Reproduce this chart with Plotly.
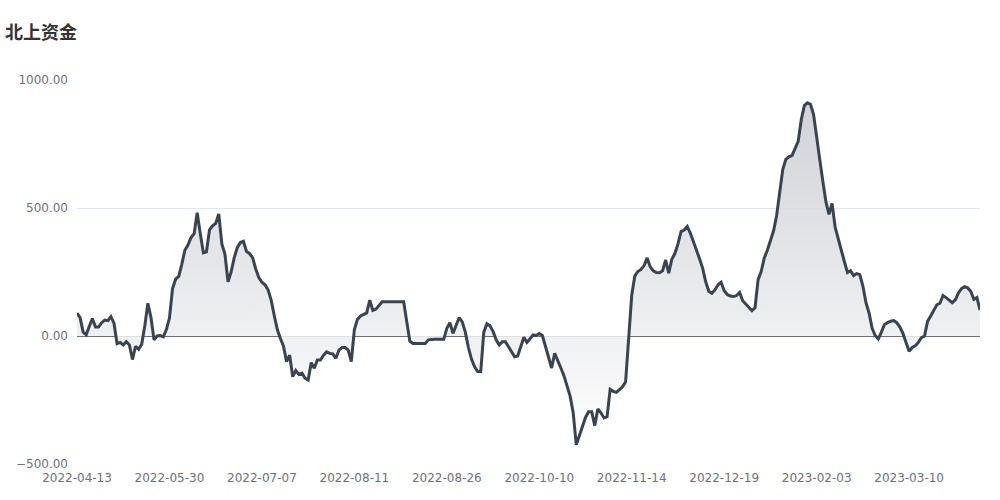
import plotly.graph_objects as go

title_text = "北上资金"

values = [
    90, 72, 15, 5, 38, 68, 35, 35, 52, 62,
    60, 76, 50, -30, -25, -35, -22, -35, -92, -40,
    -52, -32, 40, 128, 72, -15, 0, 2, -3, 25,
    70, 185, 222, 233, 280, 335, 355, 385, 400, 482,
    400, 325, 329, 415, 430, 440, 477, 360, 320, 212,
    250, 305, 345, 365, 370, 330, 322, 305, 262, 228,
    210, 200, 180, 140, 80, 25, -10, -40, -100, -75,
    -159, -135, -150, -145, -165, -172, -104, -126, -94, -94,
    -75, -62, -68, -70, -87, -55, -45, -45, -55, -100,
    25, 65, 78, 85, 90, 140, 100, 105, 120, 134,
    134, 134, 134, 134, 134, 134, 134, 56, -20, -29,
    -29, -29, -29, -29, -15, -13, -13, -13, -13, -13,
    30, 52, 10, 45, 72, 55, 15, -45, -90, -120,
    -139, -139, 15, 48, 40, 18, -15, -35, -22, -22,
    -40, -60, -81, -78, -42, -5, -25, -10, 4, 2,
    10, 2, -40, -90, -125, -68, -100, -125, -155, -195,
    -235, -300, -425, -390, -350, -318, -296, -296, -350, -285,
    -300, -320, -315, -208, -216, -220, -210, -198, -180, 10,
    160, 235, 252, 260, 275, 305, 270, 255, 248, 247,
    255, 297, 245, 300, 322, 360, 408, 414, 428, 402,
    370, 338, 302, 265, 212, 175, 167, 180, 200, 210,
    177, 162, 156, 154, 158, 170, 138, 125, 110, 99,
    110, 220, 252, 305, 335, 372, 410, 470, 560, 650,
    690, 700, 705, 730, 760, 845, 900, 911, 905, 865,
    770, 690, 605, 525, 475, 518, 425, 375, 335, 290,
    248, 255, 236, 244, 240, 195, 130, 90, 30, 2,
    -12, 15, 45, 52, 58, 60, 52, 35, 10, -25,
    -60, -45, -38, -25, -6, 0, 58, 78, 100, 122,
    128, 158, 150, 140, 130, 141, 168, 185, 193, 188,
    175, 143, 150, 102,
]

tick_labels = [
    "2022-04-13", "2022-05-30", "2022-07-07", "2022-08-11", "2022-08-26",
    "2022-10-10", "2022-11-14", "2022-12-19", "2023-02-03", "2023-03-10",
]
label_interval = 30

y_ticks = [-500, 0, 500, 1000]

x_index = list(range(len(values)))
tick_positions = [i * label_interval for i in range(len(tick_labels))]

fig = go.Figure()
fig.add_trace(go.Scatter(
    x=x_index,
    y=values,
    mode="lines",
    line=dict(color="#3a4350", width=3, shape="linear"),
    fill="tozeroy",
    fillgradient=dict(
        type="vertical",
        colorscale=[[0, "rgba(255,255,255,0.9)"], [1, "rgba(200,203,209,0.85)"]],
    ),
    hoverinfo="x+y",
    showlegend=False,
))

fig.update_layout(
    width=1000,
    height=500,
    margin=dict(l=77, r=20, t=80, b=36),
    paper_bgcolor="white",
    plot_bgcolor="white",
    font=dict(family="DejaVu Sans", size=12, color="#6e7079"),
    title=dict(
        text="<b>" + title_text + "</b>",
        x=0.005, xanchor="left",
        y=0.934, yanchor="middle",
        font=dict(family="Noto Sans CJK SC", size=18, color="#333333"),
    ),
)

fig.update_xaxes(
    range=[0, len(values) - 1],
    tickmode="array",
    tickvals=tick_positions,
    ticktext=tick_labels,
    showgrid=False,
    zeroline=False,
    showline=False,
    ticks="",
    ticklabelstandoff=5,
    tickfont=dict(family="DejaVu Sans", size=12, color="#6e7079"),
)

fig.update_yaxes(
    range=[-500, 1000],
    tickmode="array",
    tickvals=y_ticks,
    tickformat=".2f",
    showgrid=True,
    gridcolor="#e0e6f1",
    gridwidth=1,
    zeroline=True,
    zerolinecolor="#6e7079",
    zerolinewidth=1,
    showline=False,
    ticks="",
    ticklabelstandoff=8,
    tickfont=dict(family="DejaVu Sans", size=12, color="#6e7079"),
)

fig.write_html("out.html", config={"displayModeBar": False})

# remove the default page margin so the figure sits at the window's corner
with open("out.html", "r", encoding="utf-8") as f:
    html = f.read()
html = html.replace("<body>", '<body style="margin:0;padding:0;">', 1)
with open("out.html", "w", encoding="utf-8") as f:
    f.write(html)
